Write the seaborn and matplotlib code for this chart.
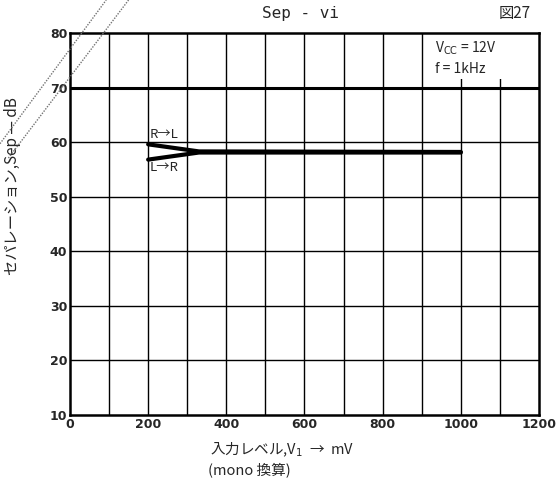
import matplotlib
matplotlib.use("Agg")
import matplotlib.pyplot as plt
import seaborn as sns
import pandas as pd
from matplotlib.patches import Rectangle
from matplotlib.lines import Line2D

# Separation vs. input level (Vcc = 12 V, f = 1 kHz)
input_mv_rl = [200, 330, 1000]
sep_db_rl = [59.6, 58.3, 58.2]
input_mv_lr = [200, 330, 1000]
sep_db_lr = [56.8, 58.1, 58.1]

x_ticks = [0, 200, 400, 600, 800, 1000, 1200]
y_ticks = [10, 20, 30, 40, 50, 60, 70, 80]

df = pd.DataFrame({
    "vin": input_mv_rl + input_mv_lr,
    "sep": sep_db_rl + sep_db_lr,
    "dir": ["R→L"] * len(input_mv_rl) + ["L→R"] * len(input_mv_lr),
})

sns.set_style("white")
plt.rcParams["font.family"] = ["Noto Sans CJK JP", "DejaVu Sans"]

fig = plt.figure(figsize=(5.59, 4.79), dpi=100)
ax = fig.add_axes([0.1252, 0.1336, 0.839, 0.7975])

# grid: every 100 mV and every 10 dB
for xv in range(100, 1200, 100):
    ax.axvline(xv, color="black", lw=1.0, zorder=1)
for yv in range(20, 80, 10):
    ax.axhline(yv, color="black", lw=2.2 if yv == 70 else 1.0, zorder=1)

sns.lineplot(data=df, x="vin", y="sep", hue="dir", palette=["black", "black"],
             lw=3.0, legend=False, ax=ax, zorder=3)

ax.set_xlim(0, 1200)
ax.set_ylim(10, 80)
ax.set_xticks(x_ticks)
ax.set_yticks(y_ticks)
ax.set_xticklabels([str(v) for v in x_ticks], fontsize=9, fontweight="bold",
                   family="DejaVu Sans")
ax.set_yticklabels([str(v) for v in y_ticks], fontsize=9, fontweight="bold",
                   family="DejaVu Sans")
ax.tick_params(axis="both", length=0, pad=2)
for s in ax.spines.values():
    s.set_color("black")
    s.set_linewidth(1.8)

# condition box in the upper-right cell
ax.add_patch(Rectangle((905, 71.6), 290, 8.2, facecolor="white",
                       edgecolor="none", zorder=2))
ax.text(935, 77.2, "V$_{\\rm CC}$ = 12V", fontsize=10, va="center", zorder=4)
ax.text(935, 73.4, "f = 1kHz", fontsize=10, va="center", zorder=4)

# curve labels
ax.text(205, 61.4, "R→L", fontsize=9.5, va="center", zorder=4)
ax.text(205, 55.3, "L→R", fontsize=9.5, va="center", zorder=4)

ax.set_xlabel("")
ax.set_ylabel("セパレーション,Sep — dB", fontsize=11)
ax.yaxis.set_label_coords(-0.105, 0.60)

fig.text(0.375, 0.062, "入力レベル,V$_1$  →  mV", fontsize=10.5, va="center")
fig.text(0.372, 0.020, "(mono 換算)", fontsize=10.5, va="center")

fig.text(0.537, 0.972, "Sep - vi", fontsize=11.5, ha="center", va="center",
         family="DejaVu Sans Mono")
fig.text(0.92, 0.972, "図27", fontsize=11, ha="center", va="center")

# dotted diagonal marks at the top-left corner
for x0, y0, x1, y1 in [(0.0, 0.70, 0.19, 1.0), (0.015, 0.67, 0.23, 1.0)]:
    fig.add_artist(Line2D([x0, x1], [y0, y1], transform=fig.transFigure,
                          color="0.45", lw=1.0, ls=(0, (1, 1))))

fig.savefig("out.png", dpi=100)
